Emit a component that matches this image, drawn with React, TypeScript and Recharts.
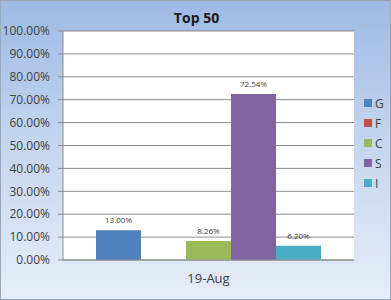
import React from "react";
import { BarChart, Bar, XAxis, YAxis, CartesianGrid, LabelList } from "recharts";

// chart values
const categories = ["19-Aug"];
const seriesNames = ["G", "F", "C", "S", "I"];
const seriesValues = [13.0, 0.0, 8.26, 72.54, 6.2];
const seriesColors = ["#4f81bd", "#c0504d", "#9bbb59", "#8064a2", "#4bacc6"];
const yTicks = [0, 10, 20, 30, 40, 50, 60, 70, 80, 90, 100];

const data = categories.map((cat) => {
  const row: Record<string, string | number> = { cat };
  seriesNames.forEach((name, i) => {
    row[name] = seriesValues[i];
  });
  return row;
});

const FONT = "'Open Sans', 'Liberation Sans', sans-serif";
const pct = (v: any) => `${Number(v).toFixed(2)}%`;

export default function App() {
  return (
    <div
      style={{
        position: "absolute",
        left: 0,
        top: 0,
        width: 391,
        height: 300,
        boxSizing: "border-box",
        border: "1px solid #9aa7ba",
        background: "linear-gradient(180deg, #9dbae4 0%, #c3d4ee 45%, #e6edf8 100%)",
        fontFamily: FONT,
        overflow: "hidden",
      }}
    >
      <div style={{ position: "absolute", left: -1, top: -1, width: 391, height: 300 }}>
        <BarChart
          width={391}
          height={300}
          data={data}
          margin={{ top: 31, right: 37, left: 0, bottom: 10 }}
          barGap={0}
          barCategoryGap={33}
        >
          <CartesianGrid vertical={false} stroke="#8c8c8c" fill="#ffffff" />
          <XAxis
            dataKey="cat"
            height={30}
            tickLine={false}
            axisLine={{ stroke: "#8c8c8c" }}
            tick={{ fill: "#404040", fontSize: 13, fontFamily: FONT }}
            tickMargin={8}
          />
          <YAxis
            width={63}
            domain={[0, 100]}
            ticks={yTicks}
            interval={0}
            tickFormatter={pct}
            tickSize={5}
            tickMargin={8}
            axisLine={{ stroke: "#8c8c8c" }}
            tickLine={{ stroke: "#8c8c8c" }}
            tick={{ fill: "#404040", fontSize: 12, fontFamily: FONT }}
          />
          {seriesNames.map((name, i) => (
            <Bar key={name} dataKey={name} fill={seriesColors[i]} isAnimationActive={false}>
              <LabelList
                dataKey={name}
                position="top"
                offset={7}
                formatter={pct}
                style={{ fill: "#404040", fontSize: 8, fontFamily: FONT }}
              />
            </Bar>
          ))}
        </BarChart>
      </div>

      {/* Title */}
      <div
        style={{
          position: "absolute",
          top: 7,
          left: 0,
          width: 391,
          textAlign: "center",
          fontWeight: "bold",
          fontSize: 14,
          color: "#1a1a1a",
        }}
      >
        Top 50
      </div>

      {/* Legend */}
      <div style={{ position: "absolute", left: 363, top: 92 }}>
        {seriesNames.map((name, i) => (
          <div key={name} style={{ display: "flex", alignItems: "center", height: 20 }}>
            <span
              style={{
                display: "inline-block",
                width: 8,
                height: 8,
                background: seriesColors[i],
                marginRight: 3,
              }}
            />
            <span style={{ fontSize: 12, color: "#404040" }}>{name}</span>
          </div>
        ))}
      </div>
    </div>
  );
}
